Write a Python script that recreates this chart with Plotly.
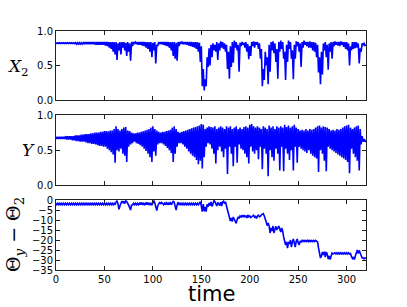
import plotly.graph_objects as go

# ---------------- data (one value per time unit) ----------------
time = list(range(0, 321))

x2 = [
    0.83, 0.82, 0.83, 0.82, 0.83, 0.82, 0.83, 0.82, 0.83, 0.82,
    0.83, 0.82, 0.83, 0.82, 0.83, 0.82, 0.83, 0.82, 0.83, 0.82,
    0.83, 0.81, 0.83, 0.81, 0.83, 0.81, 0.83, 0.81, 0.83, 0.81,
    0.84, 0.81, 0.84, 0.81, 0.84, 0.81, 0.84, 0.81, 0.84, 0.81,
    0.84, 0.80, 0.84, 0.80, 0.84, 0.80, 0.84, 0.80, 0.84, 0.80,
    0.84, 0.79, 0.84, 0.78, 0.84, 0.76, 0.84, 0.74, 0.84, 0.70,
    0.84, 0.66, 0.84, 0.58, 0.82, 0.72, 0.84, 0.66, 0.84, 0.76,
    0.84, 0.72, 0.83, 0.64, 0.84, 0.70, 0.82, 0.57, 0.84, 0.78,
    0.84, 0.82, 0.84, 0.81, 0.84, 0.80, 0.84, 0.80, 0.84, 0.79,
    0.84, 0.78, 0.84, 0.76, 0.84, 0.74, 0.84, 0.70, 0.84, 0.62,
    0.83, 0.72, 0.84, 0.53, 0.80, 0.78, 0.84, 0.81, 0.84, 0.81,
    0.84, 0.80, 0.84, 0.79, 0.84, 0.78, 0.84, 0.76, 0.84, 0.72,
    0.84, 0.64, 0.84, 0.60, 0.83, 0.57, 0.84, 0.78, 0.84, 0.82,
    0.84, 0.81, 0.84, 0.81, 0.84, 0.80, 0.84, 0.79, 0.84, 0.78,
    0.84, 0.77, 0.84, 0.76, 0.84, 0.74, 0.84, 0.70, 0.83, 0.55,
    0.78, 0.20, 0.45, 0.14, 0.30, 0.20, 0.62, 0.48, 0.75, 0.50,
    0.80, 0.62, 0.82, 0.72, 0.80, 0.70, 0.84, 0.58, 0.82, 0.72,
    0.85, 0.76, 0.84, 0.74, 0.82, 0.70, 0.80, 0.45, 0.70, 0.31,
    0.78, 0.48, 0.84, 0.54, 0.86, 0.76, 0.84, 0.72, 0.80, 0.41,
    0.83, 0.78, 0.84, 0.80, 0.83, 0.76, 0.84, 0.70, 0.81, 0.59,
    0.78, 0.64, 0.84, 0.78, 0.85, 0.76, 0.84, 0.80, 0.84, 0.74,
    0.82, 0.60, 0.74, 0.20, 0.45, 0.29, 0.70, 0.50, 0.62, 0.23,
    0.80, 0.41, 0.84, 0.72, 0.85, 0.68, 0.82, 0.55, 0.74, 0.31,
    0.84, 0.70, 0.86, 0.74, 0.84, 0.60, 0.70, 0.29, 0.80, 0.55,
    0.86, 0.74, 0.84, 0.60, 0.72, 0.30, 0.80, 0.60, 0.85, 0.78,
    0.84, 0.70, 0.82, 0.48, 0.84, 0.76, 0.86, 0.80, 0.84, 0.78,
    0.84, 0.76, 0.85, 0.76, 0.84, 0.72, 0.84, 0.70, 0.83, 0.62,
    0.80, 0.40, 0.62, 0.23, 0.70, 0.37, 0.82, 0.72, 0.84, 0.62,
    0.80, 0.44, 0.82, 0.70, 0.84, 0.60, 0.84, 0.78, 0.85, 0.80,
    0.84, 0.79, 0.84, 0.78, 0.85, 0.80, 0.84, 0.77, 0.84, 0.74,
    0.84, 0.72, 0.82, 0.50, 0.78, 0.72, 0.84, 0.74, 0.84, 0.75,
    0.84, 0.76, 0.82, 0.53, 0.75, 0.70, 0.82, 0.80, 0.82, 0.79,
    0.80,
]

y_val = [
    0.69, 0.66, 0.69, 0.66, 0.69, 0.66, 0.69, 0.66, 0.69, 0.66,
    0.70, 0.65, 0.70, 0.65, 0.70, 0.65, 0.70, 0.64, 0.70, 0.64,
    0.71, 0.63, 0.71, 0.63, 0.71, 0.62, 0.72, 0.62, 0.72, 0.62,
    0.73, 0.61, 0.73, 0.60, 0.73, 0.60, 0.74, 0.59, 0.74, 0.59,
    0.75, 0.58, 0.75, 0.57, 0.75, 0.56, 0.76, 0.56, 0.76, 0.55,
    0.77, 0.55, 0.77, 0.52, 0.77, 0.50, 0.78, 0.47, 0.78, 0.44,
    0.80, 0.32, 0.84, 0.50, 0.80, 0.48, 0.78, 0.52, 0.80, 0.45,
    0.82, 0.42, 0.83, 0.33, 0.78, 0.55, 0.77, 0.58, 0.75, 0.60,
    0.74, 0.62, 0.74, 0.60, 0.75, 0.59, 0.75, 0.57, 0.76, 0.55,
    0.77, 0.52, 0.78, 0.49, 0.79, 0.45, 0.80, 0.40, 0.82, 0.33,
    0.84, 0.48, 0.80, 0.42, 0.78, 0.58, 0.76, 0.60, 0.75, 0.60,
    0.76, 0.58, 0.76, 0.56, 0.77, 0.53, 0.78, 0.50, 0.79, 0.46,
    0.82, 0.33, 0.84, 0.45, 0.80, 0.55, 0.76, 0.60, 0.75, 0.60,
    0.76, 0.58, 0.77, 0.55, 0.78, 0.52, 0.79, 0.48, 0.80, 0.45,
    0.81, 0.42, 0.82, 0.40, 0.83, 0.36, 0.84, 0.30, 0.85, 0.35,
    0.87, 0.24, 0.86, 0.40, 0.80, 0.55, 0.82, 0.60, 0.84, 0.58,
    0.83, 0.52, 0.82, 0.45, 0.84, 0.31, 0.80, 0.50, 0.82, 0.55,
    0.84, 0.48, 0.82, 0.40, 0.80, 0.52, 0.84, 0.16, 0.82, 0.55,
    0.84, 0.45, 0.80, 0.27, 0.82, 0.55, 0.84, 0.32, 0.80, 0.58,
    0.82, 0.52, 0.80, 0.50, 0.83, 0.45, 0.84, 0.40, 0.82, 0.31,
    0.86, 0.55, 0.87, 0.48, 0.84, 0.45, 0.82, 0.50, 0.84, 0.37,
    0.82, 0.55, 0.80, 0.23, 0.84, 0.52, 0.82, 0.45, 0.80, 0.13,
    0.85, 0.50, 0.82, 0.40, 0.84, 0.35, 0.80, 0.52, 0.84, 0.45,
    0.82, 0.21, 0.84, 0.55, 0.82, 0.20, 0.86, 0.52, 0.83, 0.45,
    0.85, 0.36, 0.82, 0.50, 0.84, 0.21, 0.86, 0.55, 0.82, 0.32,
    0.80, 0.55, 0.78, 0.52, 0.79, 0.50, 0.78, 0.48, 0.80, 0.46,
    0.78, 0.50, 0.80, 0.45, 0.79, 0.42, 0.80, 0.40, 0.82, 0.38,
    0.84, 0.19, 0.85, 0.50, 0.82, 0.45, 0.84, 0.35, 0.83, 0.20,
    0.82, 0.55, 0.80, 0.52, 0.78, 0.50, 0.79, 0.48, 0.78, 0.46,
    0.80, 0.44, 0.79, 0.42, 0.80, 0.40, 0.82, 0.38, 0.84, 0.36,
    0.85, 0.33, 0.86, 0.17, 0.82, 0.52, 0.80, 0.45, 0.82, 0.40,
    0.84, 0.35, 0.85, 0.21, 0.80, 0.58, 0.70, 0.62, 0.66, 0.62,
    0.64,
]

theta_diff = [
    -1.6, -2.4, -1.6, -2.4, -1.6, -2.4, -1.6, -2.4, -1.6, -2.4,
    -1.6, -2.4, -1.6, -2.4, -1.6, -2.4, -1.6, -2.4, -1.6, -2.4,
    -1.6, -2.4, -1.6, -2.4, -1.6, -2.4, -1.6, -2.4, -1.6, -2.4,
    -1.6, -2.4, -1.6, -2.4, -1.6, -2.4, -1.6, -2.4, -1.6, -2.4,
    -1.6, -2.4, -1.6, -2.4, -1.6, -2.4, -1.6, -2.4, -1.6, -2.4,
    -1.6, -2.4, -1.6, -2.4, -1.6, -2.4, -1.6, -2.4, -1.6, -2.4,
    -1.6, -2.4, -1.0, -0.3, -2.0, -4.7, -3.0, -1.0, -0.5, -1.5,
    -0.6, -1.8, -0.4, -0.8, -1.5, -2.6, -3.8, -5.0, -2.6, -2.4,
    -1.6, -2.4, -1.6, -2.4, -1.6, -2.4, -1.6, -2.4, -1.2, -2.4,
    -1.6, -2.4, -1.6, -2.4, -1.2, -2.4, -1.6, -2.4, -1.6, -2.4,
    -1.6, -0.3, -1.5, -4.0, -5.3, -3.0, -1.5, -1.0, -2.0, -1.2,
    -1.6, -2.4, -1.6, -2.4, -1.0, -2.4, -1.6, -2.4, -1.0, -2.4,
    -1.6, -0.5, -1.2, -3.5, -5.0, -2.5, -1.2, -2.2, -1.6, -2.4,
    -1.6, -2.4, -1.6, -2.4, -1.6, -2.4, -1.6, -2.4, -1.6, -2.4,
    -1.6, -2.4, -1.6, -2.4, -1.6, -2.4, -1.6, -2.4, -1.4, -0.8,
    -3.0, -5.8, -2.0, -5.6, -3.5, -5.8, -2.2, -3.3, -1.5, -2.8,
    -1.0, -3.2, -2.0, -0.2, -0.8, -2.5, -3.0, -1.2, -2.0, -2.8,
    -1.0, -3.0, -1.0, -0.6, -1.8, -1.0, -3.0, -4.8, -6.5, -8.5,
    -10.5, -9.0, -10.8, -8.5, -9.5, -10.8, -11.7, -9.8, -8.5, -9.2,
    -8.0, -8.5, -7.8, -8.6, -7.6, -8.4, -8.0, -9.0, -7.5, -8.4,
    -8.0, -8.8, -8.2, -8.0, -7.6, -8.6, -8.2, -9.2, -8.0, -7.6,
    -8.4, -8.2, -7.4, -7.0, -6.8, -8.0, -10.2, -11.0, -12.8, -11.5,
    -13.0, -16.5, -14.0, -15.5, -13.0, -16.5, -14.5, -13.2, -15.0, -13.5,
    -13.0, -14.5, -16.0, -14.0, -15.5, -18.5, -20.5, -22.5, -21.0, -24.0,
    -21.0, -22.0, -20.0, -23.5, -21.0, -19.5, -21.5, -23.5, -20.5, -19.5,
    -21.5, -22.5, -20.5, -21.0, -20.2, -20.8, -20.2, -20.8, -20.2, -20.8,
    -20.2, -20.8, -20.2, -20.8, -20.2, -20.8, -20.2, -20.8, -20.2, -20.8,
    -21.0, -24.0, -27.5, -29.0, -28.0, -26.0, -27.5, -25.8, -28.5, -26.0,
    -27.0, -29.5, -28.0, -29.8, -28.0, -26.5, -27.0, -26.5, -26.4, -27.0,
    -26.4, -27.0, -26.4, -27.0, -26.4, -27.0, -26.4, -27.0, -26.4, -27.0,
    -26.4, -27.0, -26.4, -27.0, -26.8, -28.3, -29.2, -28.5, -29.8, -28.0,
    -26.5, -25.0, -26.8, -25.2, -26.5, -28.0, -29.0, -28.8, -29.4, -29.0,
    -29.2,
]

x_ticks = [0, 50, 100, 150, 200, 250, 300]
unit_ticks = [0.0, 0.5, 1.0]
theta_ticks = [0, -5, -10, -15, -20, -25, -30, -35]

# ---------------- figure ----------------
W, H = 407, 307
LINE = dict(color="#0000ff", width=1.6)

fig = go.Figure()
fig.add_trace(go.Scatter(x=time, y=x2, mode="lines", line=LINE, xaxis="x", yaxis="y"))
fig.add_trace(go.Scatter(x=time, y=y_val, mode="lines", line=LINE, xaxis="x2", yaxis="y2"))
fig.add_trace(go.Scatter(x=time, y=theta_diff, mode="lines", line=LINE, xaxis="x3", yaxis="y3"))

xdom = [56 / W, 366 / W]
def ydom(top_px, bot_px):
    return [1 - bot_px / H, 1 - top_px / H]

tickfont = dict(family="DejaVu Sans", size=10, color="black")
common_x = dict(range=[0, 320], tickvals=x_ticks, ticks="inside", ticklen=4, tickcolor="#222",
                showline=True, linecolor="#222", linewidth=1, mirror="ticks",
                showgrid=False, zeroline=False, domain=xdom, tickfont=tickfont,
                automargin=False)
common_y = dict(ticks="inside", ticklen=4, tickcolor="#222", showline=True, linecolor="#222",
                linewidth=1, mirror="ticks", showgrid=False, zeroline=False, tickfont=tickfont,
                automargin=False)

fig.update_layout(
    template="none",
    width=W, height=H,
    margin=dict(l=0, r=0, t=0, b=0, pad=0),
    paper_bgcolor="white", plot_bgcolor="white",
    showlegend=False,
    xaxis=dict(**common_x, anchor="y", showticklabels=False),
    xaxis2=dict(**common_x, anchor="y2", showticklabels=False),
    xaxis3=dict(**common_x, anchor="y3", showticklabels=True),
    yaxis=dict(**common_y, domain=ydom(31, 100), range=[0, 1], tickvals=unit_ticks,
               tickformat=".1f", anchor="x"),
    yaxis2=dict(**common_y, domain=ydom(115, 185.3), range=[0, 1], tickvals=unit_ticks,
                tickformat=".1f", anchor="x2"),
    yaxis3=dict(**common_y, domain=ydom(200, 270), range=[-35, 0], tickvals=theta_ticks,
                anchor="x3"),
)

def label(px, py, text, font, angle=0):
    fig.add_annotation(x=px / W, y=1 - py / H, xref="paper", yref="paper", showarrow=False,
                       xanchor="center", yanchor="middle", textangle=angle, text=text, font=font)

lab_font = dict(family="DejaVu Serif", size=17, color="black")
label(18, 67, "<i>X</i><sub>2</sub>", lab_font)
label(28, 150, "<i>Y</i>", lab_font)
label(14, 235, "Θ<sub><i>y</i></sub> − Θ<sub>2</sub>",
      dict(family="DejaVu Serif", size=19, color="black"), angle=-90)
label(211, 294, "time", dict(family="DejaVu Sans", size=21, color="black"))

fig.write_html("out.html", config={"displayModeBar": False},
               post_script="document.body.style.margin='0';document.body.style.padding='0';")
